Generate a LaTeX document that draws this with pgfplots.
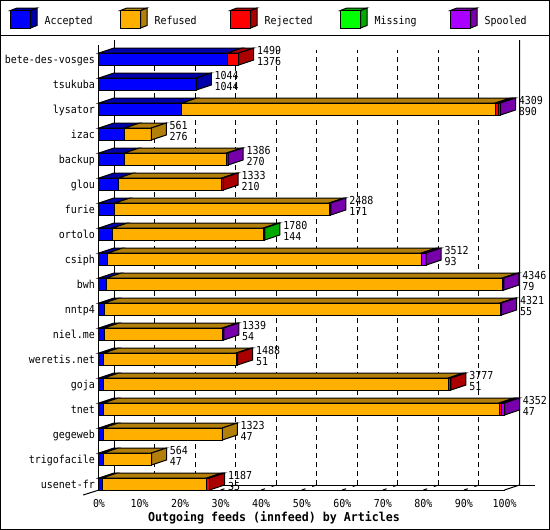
\documentclass[border=0pt]{standalone}
\usepackage{fontspec}
\setmainfont[FakeStretch=0.906]{DejaVu Sans Mono}
\newfontfamily\titlefont[FakeStretch=0.945]{DejaVu Sans Mono}
\usepackage{pgfplots}
\pgfplotsset{compat=1.18}
\definecolor{accF}{HTML}{0000FF}\definecolor{accD}{HTML}{0000AA}
\definecolor{refF}{HTML}{FFAF00}\definecolor{refD}{HTML}{B27F0A}
\definecolor{rejF}{HTML}{FF0000}\definecolor{rejD}{HTML}{AA0000}
\definecolor{misF}{HTML}{00FF00}\definecolor{misD}{HTML}{00AA00}
\definecolor{spoF}{HTML}{AA00FF}\definecolor{spoD}{HTML}{7700AA}
\newcommand\poly[2]{\edef\tmp{\noexpand\addplot[fill=#1,draw=black,line width=1bp,forget plot] coordinates {#2} -- cycle;}\tmp}
\newcommand\seg[3]{%
 \ifnum#3>0
  \pgfmathsetmacro\xa{\cum/43.52}%
  \pgfmathsetmacro\newcum{\cum+#3}%
  \pgfmathsetmacro\xb{\newcum/43.52}%
  \pgfmathsetmacro\xaB{\xa+3.7}%
  \pgfmathsetmacro\xbB{\xb+3.7}%
  \poly{#2}{(\xa,\yT)(\xaB,\yU)(\xbB,\yU)(\xb,\yT)}%
  \poly{#1}{(\xa,\yB)(\xb,\yB)(\xb,\yT)(\xa,\yT)}%
  \let\cum\newcum
  \def\lastdark{#2}%
 \fi}
\tikzset{lab/.style={inner sep=0pt,text height=8bp,text depth=0pt,font=\fontsize{11bp}{11bp}\selectfont}}
% y, Accepted, Refused, Rejected, Missing, Spooled
\newcommand\hostbar[6]{%
 \pgfmathsetmacro\yT{#1+0.24}\pgfmathsetmacro\yB{#1-0.24}%
 \pgfmathsetmacro\yU{#1+0.44}\pgfmathsetmacro\yD{#1-0.04}%
 \def\cum{0}%
 \seg{accF}{accD}{#2}\seg{refF}{refD}{#3}\seg{rejF}{rejD}{#4}\seg{misF}{misD}{#5}\seg{spoF}{spoD}{#6}%
 \poly{\lastdark}{(\xb,\yB)(\xbB,\yD)(\xbB,\yU)(\xb,\yT)}%
 \pgfmathtruncatemacro\tot{\cum}%
 \pgfmathsetmacro\xl{\xb+4.5}%
 \edef\tmp{\noexpand\node[lab,anchor=west,yshift=9bp] at (axis cs:\xl,#1) {\tot};
  \noexpand\node[lab,anchor=west,yshift=-2bp] at (axis cs:\xl,#1) {#2};}\tmp}
\newcommand\legbox[4]{% x, front, dark, label
 \fill[#3,draw=black,line width=1bp] (#1bp+20bp,-10.5bp)--(#1bp+26.5bp,-8bp)--(#1bp+26.5bp,-25.5bp)--(#1bp+20bp,-28bp)--cycle;
 \fill[#3,draw=black,line width=1bp] (#1bp,-10.5bp)--(#1bp+6.5bp,-8bp)--(#1bp+26.5bp,-8bp)--(#1bp+20bp,-10.5bp)--cycle;
 \fill[#2,draw=black,line width=1bp] (#1bp,-10.5bp) rectangle (#1bp+20bp,-28bp);
 \node[lab,anchor=west] at (#1bp+34bp,-20bp) {#4};}
\begin{document}
\begin{tikzpicture}
\path[use as bounding box] (0,0) rectangle (550bp,-530bp);
\draw[line width=1bp] (0.5bp,-0.5bp) rectangle (549.5bp,-529.5bp);
\draw[line width=1bp] (0,-35bp) -- (550bp,-35bp);
\legbox{10.5}{accF}{accD}{Accepted}
\legbox{120.5}{refF}{refD}{Refused}
\legbox{230.5}{rejF}{rejD}{Rejected}
\legbox{340.5}{misF}{misD}{Missing}
\legbox{450.5}{spoF}{spoD}{Spooled}
\begin{axis}[
 at={(99bp,-490bp)},anchor=south west,
 scale only axis,width=405.5bp,height=445bp,
 xmin=0,xmax=100,ymin=-0.24,ymax=17.56,
 clip=false,
 axis lines=left,axis line style={-,line width=1bp},
 major tick length=0pt,minor tick num=0,
 xtick={0,10,...,100},
 xticklabels={0\%,10\%,20\%,30\%,40\%,50\%,60\%,70\%,80\%,90\%,100\%},
 ytick={0,...,17},
 yticklabels={usenet-fr,trigofacile,gegeweb,tnet,goja,weretis.net,niel.me,nntp4,bwh,csiph,ortolo,furie,glou,backup,izac,lysator,tsukuba,bete-des-vosges},
 ticklabel style={lab},
 yticklabel style={anchor=east,xshift=-4bp},
 xticklabel style={anchor=center,yshift=-13bp},
 xlabel={Outgoing feeds (innfeed) by Articles},
 xlabel style={at={(axis description cs:0.4316,0)},anchor=center,yshift=-27bp,inner sep=0pt,text height=8.5bp,text depth=0pt,font=\fontsize{12.3bp}{13bp}\titlefont\bfseries},
]
% back wall and floor
\pgfplotsinvokeforeach{13.7,23.7,33.7,43.7,53.7,63.7,73.7,83.7,93.7}{
 \addplot[black,line width=1bp,dash pattern=on 5bp off 4bp,forget plot] coordinates {(#1,-0.04)(#1,17.36)};
}
\pgfplotsinvokeforeach{10,20,30,40,50,60,70,80,90}{
 \draw[black,line width=1bp,dash pattern=on 4bp off 7bp] (axis cs:#1,-0.24) -- ++(15bp,5bp);
}
\addplot[black,line width=1bp,forget plot] coordinates {(3.7,17.76)(3.7,-0.04)(107.6,-0.04)};
\addplot[black,line width=1bp,forget plot] coordinates {(103.7,17.76)(103.7,-0.04)(100,-0.24)};
\addplot[black,line width=1bp,forget plot] coordinates {(0,-0.24)(-3.9,-0.44)};
% bars
\hostbar{17}{1376}{0}{123}{0}{0}
\hostbar{16}{1044}{0}{0}{0}{0}
\hostbar{15}{890}{3365}{30}{0}{24}
\hostbar{14}{276}{285}{0}{0}{0}
\hostbar{13}{270}{1101}{0}{0}{15}
\hostbar{12}{210}{1110}{13}{0}{0}
\hostbar{11}{171}{2300}{0}{0}{17}
\hostbar{10}{144}{1620}{0}{16}{0}
\hostbar{9}{93}{3369}{0}{0}{50}
\hostbar{8}{79}{4250}{0}{0}{17}
\hostbar{7}{55}{4250}{0}{0}{16}
\hostbar{6}{54}{1270}{0}{0}{15}
\hostbar{5}{51}{1420}{17}{0}{0}
\hostbar{4}{51}{3700}{26}{0}{0}
\hostbar{3}{47}{4249}{29}{0}{27}
\hostbar{2}{47}{1276}{0}{0}{0}
\hostbar{1}{47}{517}{0}{0}{0}
\hostbar{0}{35}{1123}{29}{0}{0}
\end{axis}
\end{tikzpicture}
\end{document}
